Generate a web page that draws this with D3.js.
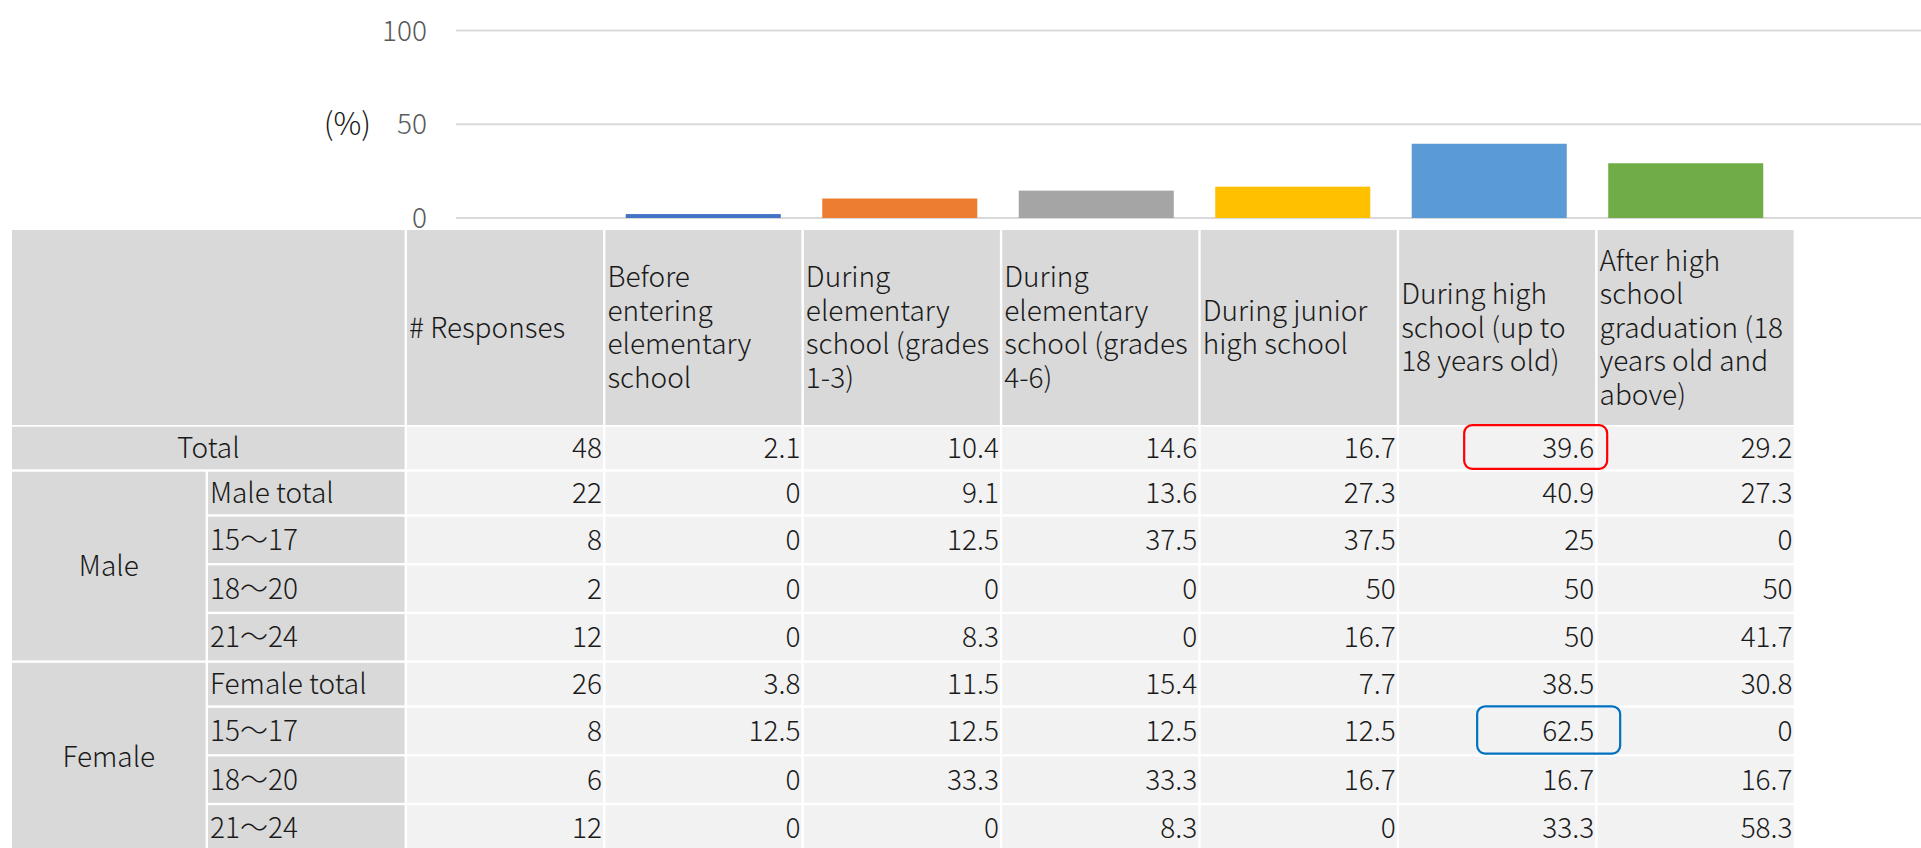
<html>
<head>
<meta charset="utf-8">
<title>chart</title>
<script src="https://d3js.org/d3.v7.min.js"></script>
<style>
    body { margin: 0; background: #fff; }
    svg text { font-family: "Noto Sans CJK JP", "Noto Sans", sans-serif; font-weight: 300; }
</style>
</head>
<body>
<div id="chart"></div>
<script>
// --- data ---
const columns = ["# Responses", "Before entering elementary school", "During elementary school (grades 1-3)",
    "During elementary school (grades 4-6)", "During junior high school",
    "During high school (up to 18 years old)", "After high school graduation (18 years old and above)"];
const headerLines = [
    ["# Responses"],
    ["Before", "entering", "elementary", "school"],
    ["During", "elementary", "school (grades", "1-3)"],
    ["During", "elementary", "school (grades", "4-6)"],
    ["During junior", "high school"],
    ["During high", "school (up to", "18 years old)"],
    ["After high", "school", "graduation (18", "years old and", "above)"]
];
const rowLabels = ["Total", "Male total", "15～17", "18～20", "21～24", "Female total", "15～17", "18～20", "21～24"];
const rowGroups = ["Total", "Male", "Male", "Male", "Male", "Female", "Female", "Female", "Female"];
const responses = [48, 22, 8, 2, 12, 26, 8, 6, 12];
const percents = [
    [2.1, 10.4, 14.6, 16.7, 39.6, 29.2],
    [0, 9.1, 13.6, 27.3, 40.9, 27.3],
    [0, 12.5, 37.5, 37.5, 25, 0],
    [0, 0, 0, 50, 50, 50],
    [0, 8.3, 0, 16.7, 50, 41.7],
    [3.8, 11.5, 15.4, 7.7, 38.5, 30.8],
    [12.5, 12.5, 12.5, 12.5, 62.5, 0],
    [0, 33.3, 33.3, 16.7, 16.7, 16.7],
    [0, 0, 8.3, 0, 33.3, 58.3]
];
const barValues = percents[0]; // the bars show the Total row
const yTicks = [0, 50, 100];
const barColors = ["#4472c4", "#ed7d31", "#a5a5a5", "#ffc000", "#5b9bd5", "#70ad47"];
// col = index in percents
const highlights = [{ row: 0, col: 4, color: "#ff0000", shift: 12 }, { row: 6, col: 4, color: "#0070c0", shift: 25 }];

// --- layout ---
const W = 1921, H = 848;
const tableLeft = 12, subLeft = 208, colLeft = 407, colRight = 1796;
const headerTop = 230, headerBottom = 425, firstRowTop = 426.7;
const gap = 2.4;
const fs = 28, lineH = 33.5;

const svg = d3.select("#chart").append("svg")
    .attr("width", W).attr("height", H);

// column scale for table cells, bar scale for the chart above
const col = d3.scaleBand().domain(columns).range([colLeft, colRight]);
const x = d3.scaleBand().domain(columns).range([408.5, 1784])
    .paddingInner(0.211).paddingOuter(0.1056);
const y = d3.scaleLinear().domain([0, 100]).range([218, 30.5]);

// gridlines + y ticks
svg.selectAll(".grid").data(yTicks).enter().append("line")
    .attr("x1", 456).attr("x2", W)
    .attr("y1", d => y(d)).attr("y2", d => y(d))
    .attr("stroke", "#d9d9d9").attr("stroke-width", 2);
svg.selectAll(".tick").data(yTicks).enter().append("text")
    .attr("x", 427).attr("y", d => y(d)).attr("dy", "0.36em")
    .attr("text-anchor", "end").attr("font-size", 28).attr("fill", "#595959")
    .text(d => d);
svg.append("text").attr("x", 371).attr("y", y(50)).attr("dy", "0.36em")
    .attr("text-anchor", "end").attr("font-size", 31).attr("fill", "#1a1a1a").text("(%)");

// bars
svg.selectAll(".bar").data(barValues).enter().append("rect")
    .attr("x", (d, i) => x(columns[i + 1]))
    .attr("width", x.bandwidth())
    .attr("y", d => y(d))
    .attr("height", d => y(0) - y(d))
    .attr("fill", (d, i) => barColors[i]);

// header row
svg.append("rect").attr("x", tableLeft).attr("y", headerTop)
    .attr("width", colLeft - gap - tableLeft).attr("height", headerBottom - headerTop)
    .attr("fill", "#d9d9d9");
const head = svg.selectAll(".head").data(columns).enter().append("g");
head.append("rect")
    .attr("x", d => col(d)).attr("y", headerTop)
    .attr("width", col.bandwidth() - gap).attr("height", headerBottom - headerTop)
    .attr("fill", "#d9d9d9");
head.each(function(d, i) {
    const lines = headerLines[i];
    const cy = (headerTop + headerBottom) / 2;
    const t = d3.select(this).append("text")
        .attr("y", cy - (lines.length - 1) / 2 * lineH)
        .attr("font-size", fs).attr("fill", "#1a1a1a");
    t.selectAll("tspan").data(lines).enter().append("tspan")
        .attr("x", col(d) + 2)
        .attr("dy", (l, j) => j === 0 ? "0.36em" : lineH)
        .text(l => l);
});

// row positions
const pitch = rowLabels.map(l => /total/i.test(l) ? 45 : 48.7);
const rowTop = pitch.map((p, i) => firstRowTop + d3.sum(pitch.slice(0, i)));
const rowH = pitch.map(p => p - gap);

// data cells
rowLabels.forEach((lab, r) => {
    const g = svg.append("g");
    const vals = [responses[r]].concat(percents[r]);
    g.selectAll("rect").data(columns).enter().append("rect")
        .attr("x", d => col(d)).attr("y", rowTop[r])
        .attr("width", col.bandwidth() - gap).attr("height", rowH[r])
        .attr("fill", "#f2f2f2");
    g.selectAll("text").data(columns).enter().append("text")
        .attr("x", d => col(d) + col.bandwidth() - gap - 1)
        .attr("y", rowTop[r] + rowH[r] / 2).attr("dy", "0.36em")
        .attr("text-anchor", "end").attr("font-size", fs).attr("fill", "#1a1a1a")
        .text((d, i) => vals[i]);

    if (lab === "Total") {
        g.append("rect").attr("x", tableLeft).attr("y", rowTop[r])
            .attr("width", colLeft - gap - tableLeft).attr("height", rowH[r]).attr("fill", "#d9d9d9");
        g.append("text").attr("x", (tableLeft + colLeft - gap) / 2).attr("y", rowTop[r] + rowH[r] / 2)
            .attr("dy", "0.36em").attr("text-anchor", "middle").attr("font-size", fs).attr("fill", "#1a1a1a")
            .text(lab);
    } else {
        g.append("rect").attr("x", subLeft).attr("y", rowTop[r])
            .attr("width", colLeft - gap - subLeft).attr("height", rowH[r]).attr("fill", "#d9d9d9");
        g.append("text").attr("x", subLeft + 2).attr("y", rowTop[r] + rowH[r] / 2)
            .attr("dy", "0.36em").attr("font-size", fs).attr("fill", "#1a1a1a")
            .text(lab);
    }
});

// merged group cells (Male / Female)
["Male", "Female"].forEach(name => {
    const idx = rowGroups.map((g, i) => g === name ? i : -1).filter(i => i >= 0);
    const top = rowTop[idx[0]];
    const last = idx[idx.length - 1];
    const bottom = rowTop[last] + rowH[last];
    svg.append("rect").attr("x", tableLeft).attr("y", top)
        .attr("width", subLeft - gap - tableLeft).attr("height", bottom - top).attr("fill", "#d9d9d9");
    svg.append("text").attr("x", (tableLeft + subLeft - gap) / 2).attr("y", (top + bottom) / 2)
        .attr("dy", "0.36em").attr("text-anchor", "middle").attr("font-size", fs).attr("fill", "#1a1a1a")
        .text(name);
});

// highlight boxes
highlights.forEach(h => {
    const right = col(columns[h.col + 1]) + col.bandwidth() - gap + h.shift;
    svg.append("rect")
        .attr("x", right - 143).attr("y", rowTop[h.row] - 1.5)
        .attr("width", 143).attr("height", rowH[h.row] + 1)
        .attr("rx", 8).attr("ry", 8)
        .attr("fill", "none").attr("stroke", h.color).attr("stroke-width", 2.2);
});
</script>
</body>
</html>
